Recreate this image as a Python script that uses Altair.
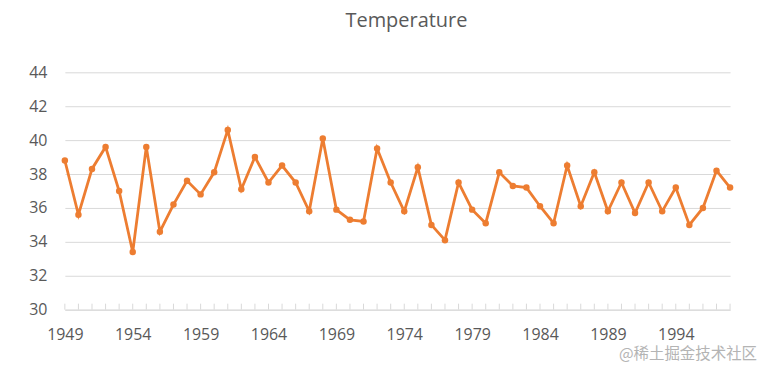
import altair as alt
import pandas as pd

years = list(range(1949, 1999))
temperature = [
    38.8, 35.6, 38.3, 39.6, 37.0, 33.4, 39.6, 34.6, 36.2, 37.6,
    36.8, 38.1, 40.6, 37.1, 39.0, 37.5, 38.5, 37.5, 35.8, 40.1,
    35.9, 35.3, 35.2, 39.5, 37.5, 35.8, 38.4, 35.0, 34.1, 37.5,
    35.9, 35.1, 38.1, 37.3, 37.2, 36.1, 35.1, 38.5, 36.1, 38.1,
    35.8, 37.5, 35.7, 37.5, 35.8, 37.2, 35.0, 36.0, 38.2, 37.2,
]
label_years = [1949, 1954, 1959, 1964, 1969, 1974, 1979, 1984, 1989, 1994]
y_ticks = [30, 32, 34, 36, 38, 40, 42, 44]
watermark = "@稀土掘金技术社区"

df = pd.DataFrame({"year": years, "temp": temperature})

FONT = "Open Sans"
LABEL_COLOR = "#595959"
GRID = "#d9d9d9"
ORANGE = "#ED7D31"

x_scale = alt.Scale(domain=[years[0], years[-1]], nice=False, zero=False)
y_scale = alt.Scale(domain=[30, 44], nice=False, zero=False)

x_axis = alt.Axis(values=label_years, format="d", ticks=False, grid=False,
                  domainColor=GRID, domainWidth=1, labelPadding=17,
                  labelFont=FONT, labelFontSize=16, labelColor=LABEL_COLOR,
                  labelFlush=False, labelOverlap=False)
y_axis = alt.Axis(values=y_ticks, grid=True, gridColor=GRID, gridWidth=1,
                  domain=False, ticks=False, labelPadding=18,
                  labelOverlap=False, labelFlush=False,
                  labelFont=FONT, labelFontSize=16, labelColor=LABEL_COLOR)

X = alt.X("year:Q", scale=x_scale, title=None, axis=x_axis)
Y = alt.Y("temp:Q", scale=y_scale, title=None, axis=y_axis)

base = alt.Chart(df)

line = base.mark_line(color=ORANGE, strokeWidth=2.8).encode(x=X, y=Y)

points = base.mark_point(filled=True, color=ORANGE, size=42, opacity=1).encode(x=X, y=Y)

ticks = base.mark_rule(color=GRID, strokeWidth=1).encode(
    x=X,
    y=alt.value(232),
    y2=alt.value(238),
)

wm = alt.Chart(pd.DataFrame({"t": [watermark]})).mark_text(
    align="right", baseline="middle", font="Noto Sans CJK SC", fontSize=15.5,
    color="#b4b4b4",
).encode(text="t:N", x=alt.value(694), y=alt.value(282))

chart = alt.layer(line, ticks, points, wm).properties(
    width=667,
    height=238,
    autosize=alt.AutoSizeParams(type="none"),
    padding={"left": 57, "top": 64, "right": 29, "bottom": 52},
    title=alt.TitleParams("Temperature", font=FONT, fontSize=20, fontWeight="normal",
                          color=LABEL_COLOR, anchor="middle", offset=33, dx=9),
).configure_view(stroke=None)

chart.save("out.html", embed_options={"renderer": "svg", "actions": False})
